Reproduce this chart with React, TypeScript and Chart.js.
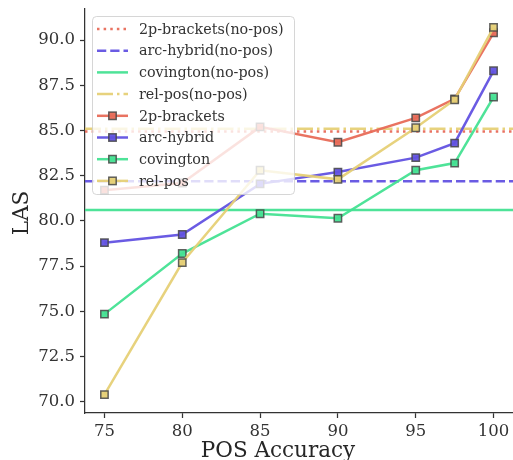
import React, { useEffect, useRef } from 'react';
import { Chart, registerables } from 'chart.js';
Chart.register(...registerables);

const xValues = [75, 80, 85, 90, 95, 97.5, 100];
const twoPBrackets = [81.7, 82.1, 85.2, 84.35, 85.7, 86.75, 90.4];
const arcHybrid = [78.8, 79.25, 82.05, 82.7, 83.5, 84.3, 88.3];
const covington = [74.85, 78.2, 80.4, 80.15, 82.8, 83.2, 86.85];
const relPos = [70.4, 77.7, 82.8, 82.3, 85.15, 86.7, 90.7];

const twoPBracketsNoPos = 84.95;
const arcHybridNoPos = 82.2;
const covingtonNoPos = 80.6;
const relPosNoPos = 85.1;

const xTicks = [75, 80, 85, 90, 95, 100];
const yTicks = [70, 72.5, 75, 77.5, 80, 82.5, 85, 87.5, 90];
const xRange = [73.75, 101.25];
const yRange = [69.385, 91.715];

const RED = 'rgba(232,108,88,0.95)';
const BLUE = 'rgba(98,82,226,0.95)';
const GREEN = 'rgba(68,226,146,0.95)';
const YELLOW = 'rgba(230,208,118,0.95)';
const EDGE = 'rgba(70,70,70,0.85)';
const FONT = '"DejaVu Serif", serif';
const LW = 2.5;

const DOT = [LW, LW * 1.65];
const DASH = [LW * 3.7, LW * 1.6];
const DASHDOT = [LW * 6.4, LW * 1.6, LW, LW * 1.6];

const legendItems = [
  { label: '2p-brackets(no-pos)', color: RED, dash: DOT, marker: false },
  { label: 'arc-hybrid(no-pos)', color: BLUE, dash: DASH, marker: false },
  { label: 'covington(no-pos)', color: GREEN, dash: [], marker: false },
  { label: 'rel-pos(no-pos)', color: YELLOW, dash: DASHDOT, marker: false },
  { label: '2p-brackets', color: RED, dash: [], marker: true },
  { label: 'arc-hybrid', color: BLUE, dash: [], marker: true },
  { label: 'covington', color: GREEN, dash: [], marker: true },
  { label: 'rel-pos', color: YELLOW, dash: [], marker: true },
];

function hline(label: string, v: number, color: string, dash: number[], order: number) {
  return {
    label,
    data: xRange.map((x) => ({ x, y: v })),
    borderColor: color,
    borderWidth: LW,
    borderDash: dash,
    borderCapStyle: 'butt',
    pointRadius: 0,
    order,
  };
}
function series(label: string, ys: number[], color: string, order: number) {
  return {
    label,
    data: xValues.map((x, i) => ({ x, y: ys[i] })),
    borderColor: color,
    borderWidth: LW,
    pointStyle: 'rect',
    pointRadius: 5.2,
    pointBackgroundColor: color,
    pointBorderColor: EDGE,
    pointBorderWidth: 1.5,
    order,
  };
}

const customPlugin = {
  id: 'custom',
  afterDatasetsDraw(chart: any) {
    const ctx = chart.ctx;
    ctx.save();
    const bx = 92.5, by = 16.5, bw = 202, bh = 178, r = 4;
    ctx.beginPath();
    ctx.moveTo(bx + r, by);
    ctx.arcTo(bx + bw, by, bx + bw, by + bh, r);
    ctx.arcTo(bx + bw, by + bh, bx, by + bh, r);
    ctx.arcTo(bx, by + bh, bx, by, r);
    ctx.arcTo(bx, by, bx + bw, by, r);
    ctx.closePath();
    ctx.fillStyle = 'rgba(255,255,255,0.8)';
    ctx.fill();
    ctx.strokeStyle = 'rgba(204,204,204,0.8)';
    ctx.lineWidth = 1;
    ctx.stroke();
    const rowH = 21.7;
    legendItems.forEach((it, i) => {
      const cy = 29 + i * rowH;
      ctx.beginPath();
      ctx.setLineDash(it.dash);
      ctx.lineCap = 'butt';
      ctx.strokeStyle = it.color;
      ctx.lineWidth = LW;
      ctx.moveTo(97, cy);
      ctx.lineTo(128, cy);
      ctx.stroke();
      ctx.setLineDash([]);
      if (it.marker) {
        ctx.fillStyle = it.color;
        ctx.strokeStyle = EDGE;
        ctx.lineWidth = 1.5;
        ctx.fillRect(112.5 - 3.7, cy - 3.7, 7.4, 7.4);
        ctx.strokeRect(112.5 - 3.7, cy - 3.7, 7.4, 7.4);
      }
      ctx.fillStyle = '#333';
      ctx.font = `14.3px ${FONT}`;
      ctx.textAlign = 'left';
      ctx.textBaseline = 'middle';
      ctx.fillText(it.label, 139, cy + 1);
    });
    ctx.restore();
  },
  afterDraw(chart: any) {
    const ctx = chart.ctx;
    ctx.save();
    ctx.fillStyle = '#262626';
    ctx.font = `21.5px ${FONT}`;
    ctx.textAlign = 'center';
    ctx.textBaseline = 'alphabetic';
    ctx.fillText('POS Accuracy', 278, 456.5);
    ctx.translate(28, 213);
    ctx.rotate(-Math.PI / 2);
    ctx.fillText('LAS', 0, 0);
    ctx.restore();
  },
};

export default function App() {
  const ref = useRef<HTMLCanvasElement>(null);
  useEffect(() => {
    if (!ref.current) return;
    const chart = new Chart(ref.current, {
      type: 'line',
      data: {
        datasets: [
          hline('2p-brackets(no-pos)', twoPBracketsNoPos, RED, DOT, 8),
          hline('arc-hybrid(no-pos)', arcHybridNoPos, BLUE, DASH, 7),
          hline('covington(no-pos)', covingtonNoPos, GREEN, [], 6),
          hline('rel-pos(no-pos)', relPosNoPos, YELLOW, DASHDOT, 5),
          series('2p-brackets', twoPBrackets, RED, 4),
          series('arc-hybrid', arcHybrid, BLUE, 3),
          series('covington', covington, GREEN, 2),
          series('rel-pos', relPos, YELLOW, 1),
        ] as any,
      },
      options: {
        animation: false,
        responsive: false,
        devicePixelRatio: 1,
        layout: { autoPadding: false, padding: { top: 9, right: 0, left: 0, bottom: 0 } },
        plugins: { legend: { display: false }, tooltip: { enabled: false } },
        scales: {
          x: {
            type: 'linear',
            min: xRange[0],
            max: xRange[1],
            afterBuildTicks: (s: any) => {
              s.ticks = xTicks.map((v) => ({ value: v }));
            },
            afterFit: (s: any) => {
              s.height = 47;
              s.paddingLeft = 0;
              s.paddingRight = 0;
            },
            grid: { drawOnChartArea: false, drawTicks: true, tickLength: 5, tickColor: '#333', tickWidth: 1.25 },
            border: { display: true, color: '#333', width: 1.25 },
            ticks: { color: '#333', font: { family: FONT, size: 16.5 }, padding: 4, maxRotation: 0, autoSkip: false },
          },
          y: {
            type: 'linear',
            min: yRange[0],
            max: yRange[1],
            afterBuildTicks: (s: any) => {
              s.ticks = yTicks.map((v) => ({ value: v }));
            },
            afterFit: (s: any) => {
              s.width = 85;
              s.paddingTop = 0;
              s.paddingBottom = 0;
            },
            grid: { drawOnChartArea: false, drawTicks: true, tickLength: 5, tickColor: '#333', tickWidth: 1.25 },
            border: { display: true, color: '#333', width: 1.25 },
            ticks: {
              color: '#333',
              font: { family: FONT, size: 16.5 },
              padding: 5,
              autoSkip: false,
              callback: (v: any) => Number(v).toFixed(1),
            },
          },
        },
      },
      plugins: [customPlugin],
    });
    return () => chart.destroy();
  }, []);
  return (
    <div style={{ position: 'absolute', left: 0, top: 0, width: 513, height: 460, background: '#fff' }}>
      <canvas ref={ref} width={513} height={460} />
    </div>
  );
}
